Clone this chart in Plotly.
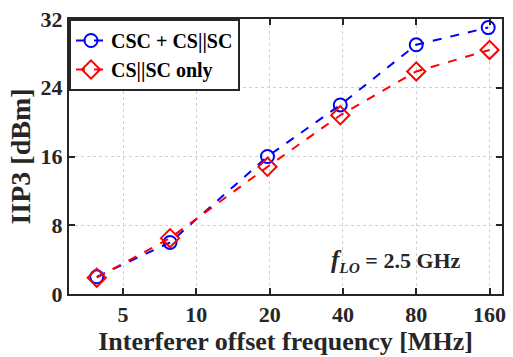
import plotly.graph_objects as go

freq_csc = [3.9, 7.8, 19.6, 39, 80, 158]
iip3_csc = [2.0, 6.0, 16.0, 22.0, 29.0, 31.0]
freq_cs = [3.9, 7.8, 19.6, 39, 80, 160]
iip3_cs = [1.9, 6.5, 14.8, 20.8, 25.9, 28.4]
xticks = [5, 10, 20, 40, 80, 160]
yticks = [0, 8, 16, 24, 32]

FONT = "Liberation Serif"
TXT = "#262626"

fig = go.Figure()
fig.add_trace(go.Scatter(
    x=freq_csc, y=iip3_csc, mode="lines+markers", name="CSC + CS||SC",
    line=dict(color="#0000ff", width=2, dash="dash"),
    marker=dict(symbol="circle-open", size=13, color="#0000ff", line=dict(width=2, color="#0000ff")),
))
fig.add_trace(go.Scatter(
    x=freq_cs, y=iip3_cs, mode="lines+markers", name="CS||SC only",
    line=dict(color="#ff0000", width=2, dash="dash"),
    marker=dict(symbol="diamond-open", size=14, color="#ff0000", line=dict(width=2, color="#ff0000")),
))

axis_common = dict(
    showline=True, linewidth=2, linecolor=TXT, mirror="ticks",
    ticks="inside", ticklen=6, tickwidth=1.5, tickcolor=TXT,
    showgrid=True, gridcolor="#d0d0d0", griddash="dot", gridwidth=1,
    zeroline=False, ticklabeloverflow="allow",
    tickfont=dict(family=FONT, size=22, color=TXT, weight="bold"),
)

fig.update_xaxes(
    type="log", range=[0.4771, 2.2553], tickvals=xticks, ticktext=[str(v) for v in xticks],
    title=dict(text="Interferer offset frequency [MHz]", font=dict(family=FONT, size=26, color=TXT, weight="bold"), standoff=0),
    **axis_common,
)
fig.update_yaxes(
    range=[0, 32], tickvals=yticks,
    title=dict(text="IIP3 [dBm]", font=dict(family=FONT, size=28, color=TXT, weight="bold"), standoff=2),
    **axis_common,
)

fig.add_annotation(
    xref="paper", yref="paper", x=0.6, y=0.12, xanchor="left", yanchor="middle",
    text="<i><span style='font-size:25px'>f</span></i><sub><i>LO</i></sub> = 2.5 GHz", showarrow=False,
    font=dict(family=FONT, size=22, color=TXT, weight="bold"),
)

fig.update_layout(
    width=513, height=357,
    margin=dict(l=69, r=7, t=12, b=63),
    plot_bgcolor="white", paper_bgcolor="white",
    showlegend=True,
    legend=dict(
        x=0, y=1, xanchor="left", yanchor="top",
        bgcolor="white", bordercolor=TXT, borderwidth=2,
        font=dict(family=FONT, size=20, color="black", weight="bold"),
        itemwidth=30, tracegroupgap=0,
    ),
)

fig.write_html("out.html")
